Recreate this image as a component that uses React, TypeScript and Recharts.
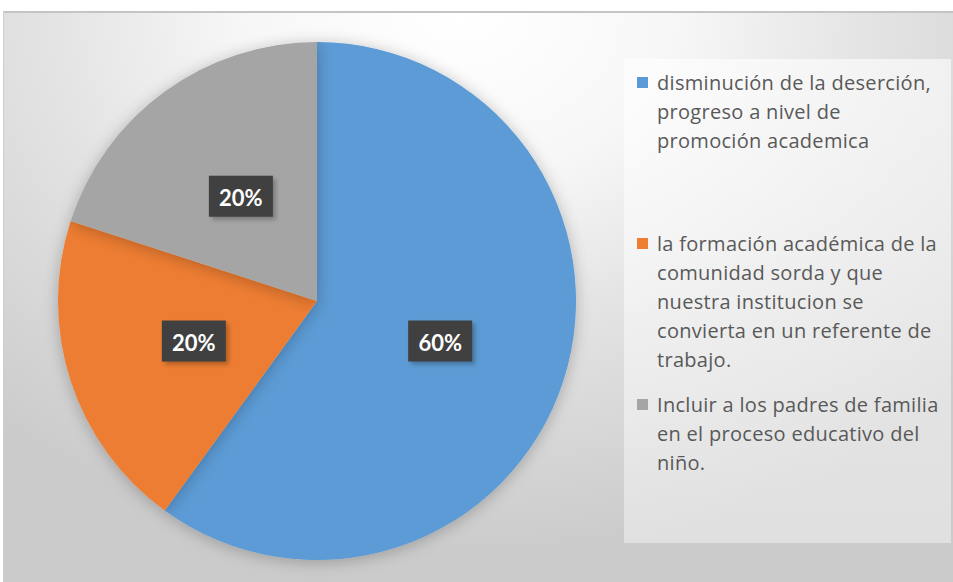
import React from "react";
import { PieChart, Pie, Cell, Legend } from "recharts";

const categories = [
  "disminución de la deserción, progreso a nivel de promoción academica",
  "la formación académica de la comunidad sorda y que nuestra institucion se convierta en un referente de trabajo.",
  "Incluir a los padres de familia en el proceso educativo del niño.",
];
const values = [60, 20, 20];
const colors = ["#5B9BD5", "#ED7D31", "#A5A5A5"];
const legendLines = [
  ["disminución de la deserción,", "progreso a nivel de", "promoción academica"],
  ["la formación académica de la", "comunidad sorda y que", "nuestra institucion se", "convierta en un referente de", "trabajo."],
  ["Incluir a los padres de familia", "en el proceso educativo del", "niño."],
];

const data = categories.map((name, i) => ({ name, value: values[i] }));

const W = 950;
const H = 570;
const FONT = "'Open Sans', Lato, sans-serif";
const RAD = Math.PI / 180;

const itemTops = [67, 228, 389];

const renderLabel = (props: any) => {
  const { cx, cy, midAngle, outerRadius, percent } = props;
  const r = outerRadius * 0.5;
  const x = cx + r * Math.cos(-midAngle * RAD);
  const y = cy + r * Math.sin(-midAngle * RAD);
  const bw = 64;
  const bh = 41;
  return (
    <g>
      <rect x={x - bw / 2 + 3} y={y - bh / 2 + 3} width={bw} height={bh} fill="rgba(0,0,0,0.25)" filter="url(#lblShadow)" />
      <rect x={x - bw / 2} y={y - bh / 2} width={bw} height={bh} fill="#404040" />
      <text x={x} y={y + 1} textAnchor="middle" dominantBaseline="central" fill="#ffffff" fontFamily="Lato, sans-serif" fontWeight="bold" fontSize={22}>
        {`${Math.round(percent * 100)}%`}
      </text>
    </g>
  );
};

const LegendContent = () => (
  <div style={{ position: "relative", width: 327, height: 484, background: "linear-gradient(180deg, rgba(255,255,255,0.6), rgba(255,255,255,0.4))" }}>
    {legendLines.map((lines, i) => (
      <div key={i} style={{ position: "absolute", left: 0, top: itemTops[i] - 58 }}>
        <div style={{ position: "absolute", left: 13, top: 9, width: 11, height: 11, background: colors[i] }} />
        {lines.map((ln, j) => (
          <div key={j} style={{ position: "absolute", left: 33, top: j * 29, whiteSpace: "nowrap", fontFamily: FONT, fontSize: 20, letterSpacing: 0.3, lineHeight: "29px", color: "#595959" }}>
            {ln}
          </div>
        ))}
      </div>
    ))}
  </div>
);

export default function App() {
  return (
    <div
      style={{
        position: "absolute",
        left: 3,
        top: 11,
        width: W,
        height: H,
        borderTop: "2px solid #c4c4c4",
        borderLeft: "1px solid #cfcfcf",
        background: "radial-gradient(ellipse 75% 95% at 48% 0%, #ffffff 0%, #f7f7f7 30%, #e2e2e2 60%, #cbcbcb 100%)",
      }}
    >
      <PieChart width={W} height={H} margin={{ top: 0, right: 0, bottom: 0, left: 0 }}>
        <defs>
          <filter id="pieShadow" x="-20%" y="-20%" width="140%" height="140%">
            <feGaussianBlur in="SourceAlpha" stdDeviation="8" />
            <feOffset dx="0" dy="2" result="b" />
            <feComponentTransfer>
              <feFuncA type="linear" slope="0.25" />
            </feComponentTransfer>
            <feMerge>
              <feMergeNode />
              <feMergeNode in="SourceGraphic" />
            </feMerge>
          </filter>
          <filter id="lblShadow" x="-30%" y="-30%" width="160%" height="160%">
            <feGaussianBlur stdDeviation="2" />
          </filter>
        </defs>
        <Pie
          data={data}
          dataKey="value"
          nameKey="name"
          cx={313}
          cy={288}
          outerRadius={259}
          startAngle={90}
          endAngle={-270}
          stroke="none"
          label={renderLabel}
          labelLine={false}
          isAnimationActive={false}
          style={{ filter: "url(#pieShadow)" }}
        >
          {data.map((d, i) => (
            <Cell key={d.name} fill={colors[i]} />
          ))}
        </Pie>
        <Legend content={<LegendContent />} wrapperStyle={{ position: "absolute", left: 620, top: 46, width: 327, height: 484 }} />
      </PieChart>
    </div>
  );
}
